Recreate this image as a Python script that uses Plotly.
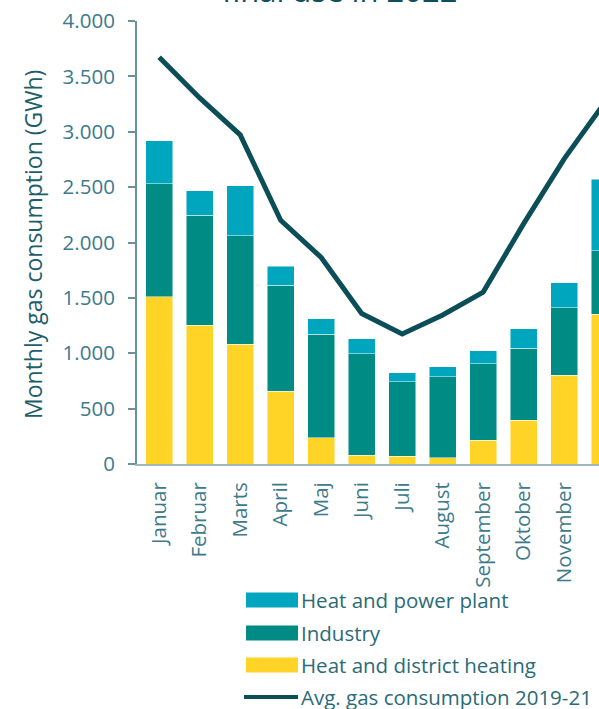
import plotly.graph_objects as go

months = ["Januar", "Februar", "Marts", "April", "Maj", "Juni", "Juli",
          "August", "September", "Oktober", "November", "December"]
heat_district = [1510, 1254, 1082, 657, 238, 81, 72, 57, 214, 395, 802, 1354]
industry = [1019, 991, 977, 955, 935, 916, 672, 730, 690, 648, 609, 570]
heat_power = [389, 221, 452, 172, 138, 136, 82, 93, 118, 178, 226, 647]
avg_2019_21 = [3673, 3305, 2972, 2200, 1865, 1359, 1173, 1345, 1552, 2170, 2755, 3262]
y_ticks = [0, 500, 1000, 1500, 2000, 2500, 3000, 3500, 4000]

C_YELLOW = "#FFD426"
C_TEAL = "#008B84"
C_CYAN = "#00A6BE"
C_LINE = "#0B4E58"
C_AXIS = "#6A929A"
C_TICK = "#3C7A8C"
C_TEXT = "#2A6B76"
FONT = "Open Sans"

W, H = 599, 709
ML, MR, MT, MB = 137, 0, 21, 245
PW, PH = W - ML - MR, H - MT - MB


def px_x(p):
    return (p - ML) / PW


def px_y(p):
    return (H - MB - p) / PH


fig = go.Figure()
bar_line = dict(color="rgba(255,255,255,0.6)", width=0.8)
fig.add_trace(go.Bar(x=months, y=heat_district, name="Heat and district heating",
                     marker=dict(color=C_YELLOW, line=bar_line)))
fig.add_trace(go.Bar(x=months, y=industry, name="Industry",
                     marker=dict(color=C_TEAL, line=bar_line)))
fig.add_trace(go.Bar(x=months, y=heat_power, name="Heat and power plant",
                     marker=dict(color=C_CYAN, line=bar_line)))
fig.add_trace(go.Scatter(x=months, y=avg_2019_21, mode="lines",
                         name="Avg. gas consumption 2019-21",
                         line=dict(color=C_LINE, width=5)))

fig.update_layout(
    width=W, height=H,
    margin=dict(l=ML, r=MR, t=MT, b=MB),
    barmode="stack", bargap=0.333,
    plot_bgcolor="white", paper_bgcolor="white",
    showlegend=False,
    separators=",.",
    font=dict(family=FONT, color=C_TEXT),
)
fig.update_xaxes(
    range=[-0.548, 10.86], showline=True, linecolor="#9DB7BC", linewidth=2,
    ticks="", tickangle=-90, tickfont=dict(family=FONT, size=20.5, color=C_TICK),
    ticklabelstandoff=8, showgrid=False,
)
fig.update_yaxes(
    range=[0, 4000], tickvals=y_ticks, tickformat=",d", showline=True,
    linecolor=C_AXIS, linewidth=2, ticks="outside", ticklen=7, tickwidth=2,
    tickcolor=C_AXIS, tickfont=dict(family=FONT, size=20.5, color=C_TICK),
    ticklabelstandoff=9, showgrid=False, zeroline=False,
)

# axis title
fig.add_annotation(text="Monthly gas consumption (GWh)", textangle=-90,
                   x=px_x(33), y=px_y(245), xref="paper", yref="paper",
                   xanchor="center", yanchor="middle", showarrow=False,
                   font=dict(family=FONT, size=23, color="#1E5E6A"))
# chart title (cut off at top)
fig.add_annotation(text="final use in 2022", x=px_x(339), y=px_y(13),
                   xref="paper", yref="paper", xanchor="center", yanchor="bottom",
                   showarrow=False, font=dict(family=FONT, size=31, color="#0E4F5C"))

# manual legend
legend_items = [
    ("Heat and power plant", C_CYAN, "rect", 600),
    ("Industry", C_TEAL, "rect", 633),
    ("Heat and district heating", C_YELLOW, "rect", 665),
    ("Avg. gas consumption 2019-21", C_LINE, "line", 697),
]
for name, color, kind, cy in legend_items:
    if kind == "rect":
        fig.add_shape(type="rect", xref="paper", yref="paper",
                      x0=px_x(246), x1=px_x(298), y0=px_y(cy - 7.5), y1=px_y(cy + 7.5),
                      fillcolor=color, line=dict(width=0))
    else:
        fig.add_shape(type="line", xref="paper", yref="paper",
                      x0=px_x(244), x1=px_x(298), y0=px_y(cy), y1=px_y(cy),
                      line=dict(color=color, width=4))
    fig.add_annotation(text=name, x=px_x(299), y=px_y(cy), xref="paper", yref="paper",
                       xanchor="left", yanchor="middle", showarrow=False,
                       font=dict(family=FONT, size=20.5, color=C_TEXT))

fig.write_html("out.html")
